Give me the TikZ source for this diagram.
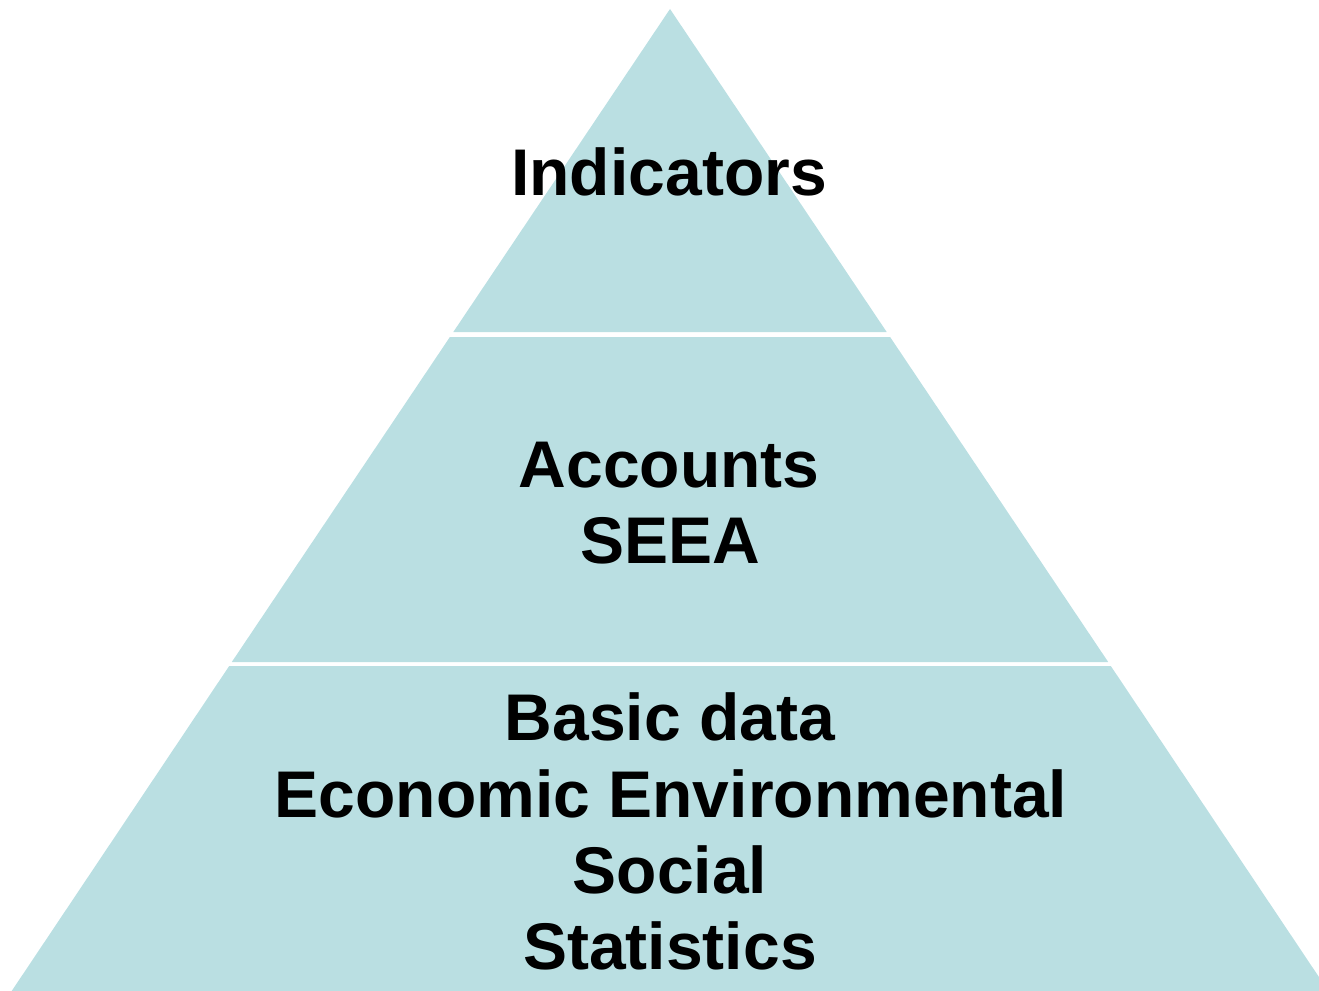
\documentclass[tikz,border=0pt]{standalone}
\usepackage{fontspec}
\setmainfont{Liberation Sans}
\definecolor{tier}{RGB}{186,223,226}
\begin{document}
\begin{tikzpicture}[x=1pt,y=-1pt,
  tierfill/.style={fill=tier,draw=none},
  lbl/.style={anchor=base,inner sep=0pt,font=\fontsize{66}{76}\selectfont\bfseries,text=black}]
\useasboundingbox (0,0) rectangle (1319,990);
\begin{scope}
\clip (0,0) rectangle (1319,990);
\fill[tierfill] (670,9) -- (886.7,332) -- (453.3,332) -- cycle;
\fill[tierfill] (449.9,337) -- (890.1,337) -- (1108.2,662) -- (231.8,662) -- cycle;
\fill[tierfill] (229.2,666) -- (1110.8,666) -- (1328.3,991) -- (11.7,991) -- cycle;
\end{scope}
\node[lbl] (ind) at (669,195) {Indicators};
\node[lbl] (acc) at (669,487) {Accounts};
\node[lbl] (seea) at (670,563) {SEEA};
\node[lbl] (basic) at (670,740) {Basic data};
\node[lbl] (econ) at (671,817) {Economic Environmental};
\node[lbl] (soc) at (670,893) {Social};
\node[lbl] (stat) at (670,969) {Statistics};
\end{tikzpicture}
\end{document}
